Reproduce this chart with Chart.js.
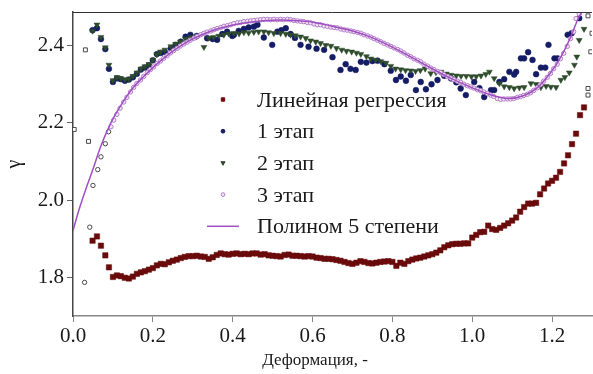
<!DOCTYPE html>
<html>
<head>
<meta charset="utf-8">
<script src="https://cdn.jsdelivr.net/npm/chart.js@4"></script>
<style>
  html, body { margin: 0; padding: 0; background: #fff; }
  #wrap { width: 593px; height: 374px; }
</style>
</head>
<body>
<div id="wrap"><canvas id="gammaChart" width="593" height="374"></canvas></div>
<script>
const FONT = "'Liberation Serif', 'DejaVu Serif', serif";
const X_TICKS = [0, 0.2, 0.4, 0.6, 0.8, 1.0, 1.2];
const Y_TICKS = [1.8, 2.0, 2.2, 2.4];
const X_TITLE = "Деформация, -";
const Y_TITLE = "γ";
const LABELS = ["Линейная регрессия", "1 этап", "2 этап", "3 этап", "Полином 5 степени"];

// [x, y]
const LINEAR = [
  [0.049,1.895],[0.060,1.906],[0.070,1.882],[0.081,1.857],[0.090,1.826],
  [0.100,1.801],[0.110,1.805],[0.120,1.803],[0.130,1.799],[0.140,1.797],[0.150,1.802],[0.160,1.809],[0.170,1.813],[0.180,1.816],[0.190,1.820],
  [0.200,1.824],[0.210,1.831],[0.220,1.835],[0.230,1.834],[0.240,1.839],[0.250,1.843],[0.260,1.846],[0.270,1.850],[0.280,1.853],[0.290,1.855],
  [0.300,1.855],[0.310,1.856],[0.320,1.854],[0.330,1.853],[0.340,1.848],[0.350,1.852],[0.360,1.858],[0.370,1.862],[0.380,1.860],[0.390,1.859],
  [0.400,1.861],[0.410,1.862],[0.420,1.860],[0.430,1.861],[0.440,1.860],[0.450,1.862],[0.460,1.862],[0.470,1.859],[0.480,1.860],[0.490,1.857],
  [0.500,1.856],[0.510,1.855],[0.520,1.854],[0.530,1.858],[0.540,1.859],[0.550,1.856],[0.560,1.856],[0.570,1.855],[0.580,1.854],[0.590,1.855],
  [0.600,1.854],[0.610,1.851],[0.620,1.850],[0.630,1.848],[0.640,1.848],[0.650,1.847],[0.660,1.845],[0.670,1.843],[0.680,1.840],[0.690,1.837],
  [0.700,1.835],[0.710,1.838],[0.720,1.842],[0.730,1.840],[0.740,1.837],[0.750,1.836],[0.760,1.838],[0.770,1.840],[0.780,1.841],[0.790,1.842],
  [0.800,1.840],[0.810,1.830],[0.820,1.838],[0.830,1.835],[0.840,1.842],[0.850,1.846],[0.860,1.849],[0.870,1.851],[0.880,1.854],[0.890,1.857],
  [0.900,1.860],[0.910,1.864],[0.920,1.870],[0.930,1.878],[0.940,1.883],[0.950,1.886],[0.960,1.887],[0.970,1.887],[0.980,1.888],[0.990,1.888],
  [1.000,1.903],[1.010,1.910],[1.020,1.917],[1.030,1.918],[1.040,1.934],[1.050,1.925],[1.060,1.923],[1.070,1.928],[1.080,1.934],[1.090,1.940],
  [1.100,1.947],[1.110,1.955],[1.120,1.970],[1.130,1.982],[1.140,1.991],[1.150,1.991],[1.160,1.993],[1.170,2.015],[1.180,2.030],[1.190,2.043],
  [1.200,2.050],[1.210,2.058],[1.220,2.073],[1.230,2.095],[1.240,2.116],[1.250,2.145],[1.260,2.172],[1.270,2.220],[1.280,2.240]
];

const STAGE1 = [
  [0.049,2.440],[0.060,2.445],[0.070,2.417],[0.081,2.391],[0.090,2.340],[0.100,2.306],[0.110,2.315],[0.120,2.313],[0.130,2.309],[0.140,2.312],
  [0.150,2.318],[0.160,2.327],[0.170,2.338],[0.180,2.343],[0.190,2.349],[0.200,2.362],[0.210,2.378],[0.220,2.381],[0.230,2.384],[0.245,2.393],
  [0.257,2.402],[0.270,2.410],[0.282,2.423],[0.294,2.428],[0.310,2.425],[0.336,2.419],[0.350,2.417],[0.361,2.415],[0.374,2.430],[0.386,2.436],
  [0.399,2.425],[0.403,2.428],[0.415,2.438],[0.428,2.443],[0.440,2.447],[0.453,2.449],[0.462,2.454],[0.478,2.421],[0.499,2.402],[0.512,2.436],
  [0.522,2.440],[0.533,2.445],[0.545,2.430],[0.556,2.420],[0.570,2.402],[0.590,2.397],[0.610,2.392],[0.629,2.389],[0.650,2.370],[0.670,2.337],
  [0.683,2.352],[0.695,2.340],[0.708,2.337],[0.721,2.358],[0.735,2.356],[0.750,2.360],[0.763,2.361],[0.780,2.352],[0.796,2.335],[0.809,2.311],
  [0.821,2.320],[0.834,2.309],[0.846,2.324],[0.859,2.285],[0.871,2.306],[0.884,2.287],[0.898,2.300],[0.913,2.311],[0.930,2.322],[0.947,2.315],
  [0.960,2.305],[0.971,2.289],[0.984,2.272],[1.005,2.306],[1.018,2.290],[1.030,2.267],[1.047,2.285],[1.055,2.285],[1.068,2.306],[1.080,2.313],
  [1.093,2.332],[1.105,2.325],[1.110,2.332],[1.122,2.367],[1.130,2.367],[1.140,2.383],[1.151,2.363],[1.160,2.326],[1.172,2.343],[1.183,2.343],
  [1.191,2.402],[1.206,2.367],[1.214,2.367],[1.239,2.428],[1.249,2.432],[1.268,2.471]
];

const STAGE2 = [
  [0.049,2.438],[0.060,2.454],[0.070,2.422],[0.081,2.395],[0.090,2.350],[0.100,2.310],[0.110,2.318],[0.120,2.315],[0.130,2.312],[0.140,2.314],
  [0.150,2.321],[0.160,2.330],[0.170,2.340],[0.180,2.346],[0.190,2.352],[0.200,2.363],[0.210,2.377],[0.219,2.384],[0.230,2.389],[0.245,2.398],
  [0.257,2.404],[0.269,2.410],[0.282,2.417],[0.294,2.421],[0.310,2.424],[0.328,2.396],[0.340,2.420],[0.352,2.422],[0.365,2.425],[0.378,2.428],
  [0.390,2.431],[0.403,2.432],[0.416,2.431],[0.428,2.434],[0.440,2.433],[0.453,2.435],[0.465,2.436],[0.478,2.436],[0.490,2.434],[0.503,2.432],
  [0.520,2.432],[0.533,2.430],[0.545,2.428],[0.557,2.426],[0.570,2.423],[0.583,2.419],[0.595,2.413],[0.608,2.410],[0.620,2.406],[0.633,2.401],
  [0.646,2.399],[0.660,2.393],[0.673,2.389],[0.685,2.386],[0.698,2.384],[0.710,2.381],[0.721,2.378],[0.735,2.372],[0.746,2.366],[0.758,2.363],
  [0.771,2.359],[0.784,2.355],[0.796,2.347],[0.808,2.340],[0.821,2.338],[0.833,2.336],[0.846,2.335],[0.858,2.334],[0.870,2.336],[0.882,2.340],
  [0.896,2.328],[0.909,2.331],[0.922,2.332],[0.935,2.327],[0.947,2.324],[0.960,2.322],[0.972,2.321],[0.985,2.321],[0.998,2.320],[1.010,2.320],
  [1.022,2.322],[1.034,2.326],[1.043,2.332],[1.055,2.315],[1.068,2.302],[1.080,2.294],[1.093,2.292],[1.105,2.289],[1.118,2.291],[1.130,2.292],
  [1.147,2.302],[1.160,2.300],[1.172,2.292],[1.185,2.295],[1.197,2.293],[1.210,2.292],[1.222,2.311],[1.232,2.318],[1.243,2.330],[1.256,2.350],
  [1.262,2.371],[1.268,2.414],[1.280,2.443]
];

const STAGE3 = [
  [0.095,2.190],[0.102,2.207],[0.110,2.222],[0.118,2.238],[0.127,2.254],[0.135,2.266],[0.144,2.280],[0.152,2.292],[0.160,2.302],[0.169,2.311],
  [0.177,2.320],[0.186,2.330],[0.194,2.338],[0.202,2.345],[0.211,2.354],[0.219,2.360],[0.227,2.367],[0.236,2.374],[0.244,2.381],[0.252,2.387],
  [0.261,2.393],[0.269,2.399],[0.277,2.404],[0.286,2.409],[0.294,2.414],[0.303,2.419],[0.311,2.424],[0.320,2.428],[0.328,2.432],[0.336,2.435],
  [0.345,2.438],[0.353,2.441],[0.361,2.444],[0.370,2.447],[0.378,2.450],[0.387,2.452],[0.395,2.454],[0.403,2.457],[0.412,2.459],[0.420,2.460],
  [0.428,2.462],[0.437,2.463],[0.445,2.464],[0.453,2.465],[0.462,2.466],[0.470,2.467],[0.478,2.468],[0.487,2.468],[0.495,2.467],[0.503,2.468],
  [0.512,2.467],[0.520,2.468],[0.528,2.467],[0.537,2.468],[0.545,2.467],[0.553,2.465],[0.562,2.464],[0.570,2.463],[0.578,2.462],[0.587,2.460],
  [0.595,2.459],[0.604,2.456],[0.612,2.454],[0.620,2.454],[0.629,2.451],[0.637,2.450],[0.646,2.448],[0.654,2.447],[0.662,2.446],[0.671,2.443],
  [0.679,2.441],[0.687,2.440],[0.696,2.438],[0.704,2.436],[0.713,2.434],[0.721,2.432],[0.729,2.428],[0.738,2.425],[0.746,2.422],[0.754,2.418],
  [0.763,2.414],[0.771,2.410],[0.779,2.406],[0.788,2.402],[0.796,2.398],[0.804,2.394],[0.813,2.390],[0.821,2.386],[0.829,2.381],[0.838,2.375],
  [0.846,2.371],[0.854,2.366],[0.863,2.362],[0.871,2.358],[0.879,2.352],[0.888,2.347],[0.896,2.342],[0.904,2.338],[0.913,2.333],[0.921,2.330],
  [0.929,2.325],[0.938,2.320],[0.946,2.316],[0.954,2.312],[0.963,2.308],[0.971,2.305],[0.979,2.300],[0.988,2.296],[0.996,2.293],[1.004,2.290],
  [1.013,2.286],[1.021,2.283],[1.029,2.280],[1.038,2.276],[1.046,2.272],[1.054,2.268],[1.063,2.263],[1.071,2.261],[1.079,2.262],[1.088,2.262],
  [1.096,2.262],[1.104,2.263],[1.113,2.266],[1.121,2.268],[1.129,2.271],[1.138,2.274],[1.146,2.278],[1.154,2.284],[1.163,2.291],[1.171,2.299],
  [1.179,2.308],[1.188,2.318],[1.196,2.328],[1.204,2.340],[1.213,2.352],[1.221,2.366],[1.229,2.380],[1.238,2.398],[1.246,2.418],[1.254,2.436],
  [1.260,2.470],[1.268,2.482]
];

// stray open markers without a legend entry
const EDGE_CIRCLES = [[0.029,1.787],[0.042,1.930],[0.050,2.038],[0.062,2.079],[0.070,2.112],[0.081,2.146],[0.089,2.177]];
const EDGE_SQUARES = [[0.003,2.183],[0.031,2.389],[0.039,2.152],[1.290,2.477],[1.300,2.432],[1.297,2.384],[1.290,2.289],[1.290,2.272]];

const POLY = [
  [0.000,1.921],[0.015,1.975],[0.031,2.025],[0.050,2.080],[0.068,2.135],[0.085,2.178],[0.102,2.214],[0.127,2.257],[0.152,2.293],[0.177,2.320],
  [0.202,2.345],[0.227,2.367],[0.252,2.387],[0.277,2.404],[0.303,2.419],[0.332,2.432],[0.361,2.443],[0.390,2.451],[0.420,2.457],[0.453,2.462],
  [0.487,2.465],[0.520,2.466],[0.553,2.465],[0.595,2.462],[0.646,2.451],[0.696,2.439],[0.746,2.422],[0.796,2.398],[0.846,2.371],[0.896,2.342],
  [0.947,2.315],[0.997,2.292],[1.047,2.272],[1.089,2.263],[1.130,2.271],[1.164,2.292],[1.197,2.331],[1.222,2.371],[1.247,2.423],[1.264,2.467],
  [1.281,2.500]
];

function toPoints(rows) {
  return rows.map(function(r) { return { x: r[0], y: r[1] }; });
}

const LEGEND_SIZE = { rect: 2.4, circle: 1.9, triangle: 2.4 };

const innerLegend = {
  id: "innerLegend",
  afterDraw(chart) {
    const ctx = chart.ctx;
    ctx.save();
    ctx.font = "22px " + FONT;
    ctx.textBaseline = "alphabetic";
    let row = 0;
    chart.data.datasets.forEach(function(ds) {
      if (!ds.label) return;
      const base = 106.5 + row * 31.7;
      const my = base - 7;
      if (ds.showLine) {
        ctx.strokeStyle = ds.borderColor;
        ctx.lineWidth = ds.borderWidth;
        ctx.beginPath();
        ctx.moveTo(207, my);
        ctx.lineTo(239, my);
        ctx.stroke();
      } else {
        ctx.fillStyle = ds.backgroundColor;
        ctx.strokeStyle = ds.borderColor;
        Chart.helpers.drawPoint(ctx, {
          pointStyle: ds.pointStyle,
          radius: LEGEND_SIZE[ds.pointStyle],
          rotation: ds.rotation || 0,
          borderWidth: ds.borderWidth
        }, 223, my);
      }
      ctx.fillStyle = "#1a1a1a";
      ctx.textAlign = "left";
      ctx.fillText(ds.label, 257, base);
      row++;
    });
    // x axis title and top frame line
    ctx.font = "17px " + FONT;
    ctx.textAlign = "center";
    ctx.fillText(X_TITLE, 315, 365);
    const a = chart.chartArea;
    ctx.strokeStyle = "#333";
    ctx.lineWidth = 1;
    ctx.beginPath();
    ctx.moveTo(a.left, a.top + 0.5);
    ctx.lineTo(a.right, a.top + 0.5);
    ctx.stroke();
    ctx.restore();
  }
};

const ctx = document.getElementById("gammaChart").getContext("2d");
new Chart(ctx, {
  type: "scatter",
  data: {
    datasets: [
      {
        label: LABELS[0],
        data: toPoints(LINEAR),
        pointStyle: "rect",
        pointRadius: 3.8,
        backgroundColor: "#6a0b0b",
        borderColor: "#6a0b0b",
        borderWidth: 0.5,
        order: 5
      },
      {
        label: LABELS[1],
        data: toPoints(STAGE1),
        pointStyle: "circle",
        pointRadius: 2.9,
        backgroundColor: "#141c66",
        borderColor: "#141c66",
        borderWidth: 0.5,
        order: 4
      },
      {
        label: LABELS[2],
        data: toPoints(STAGE2),
        pointStyle: "triangle",
        rotation: 180,
        pointRotation: 180,
        pointRadius: 3.4,
        backgroundColor: "#2e4b2c",
        borderColor: "#2e4b2c",
        borderWidth: 0.5,
        order: 3
      },
      {
        label: LABELS[3],
        data: toPoints(STAGE3),
        pointStyle: "circle",
        pointRadius: 2.2,
        backgroundColor: "#f1e6f5",
        borderColor: "#b27fc8",
        borderWidth: 1,
        order: 2
      },
      {
        label: "",
        data: toPoints(EDGE_CIRCLES),
        pointStyle: "circle",
        pointRadius: 2.2,
        backgroundColor: "#ffffff",
        borderColor: "#4a4a4a",
        borderWidth: 1,
        order: 2
      },
      {
        label: "",
        data: toPoints(EDGE_SQUARES),
        pointStyle: "rect",
        pointRadius: 2.8,
        backgroundColor: "#ffffff",
        borderColor: "#4a4a4a",
        borderWidth: 1,
        order: 2
      },
      {
        label: LABELS[4],
        type: "line",
        data: toPoints(POLY),
        showLine: true,
        pointRadius: 0,
        borderColor: "#a04fc0",
        borderWidth: 1.5,
        tension: 0.3,
        fill: false,
        order: 1
      }
    ]
  },
  options: {
    responsive: false,
    animation: false,
    devicePixelRatio: 1,
    layout: { autoPadding: false, padding: { top: 12, right: 1, left: 0, bottom: 0 } },
    plugins: {
      legend: { display: false },
      tooltip: { enabled: false }
    },
    scales: {
      x: {
        type: "linear",
        min: 0,
        max: 1.3,
        bounds: "data",
        afterBuildTicks: function(scale) {
          scale.ticks = X_TICKS.map(function(v) { return { value: v }; });
        },
        afterFit: function(scale) {
          scale.height = 58;
          scale.paddingLeft = 0;
          scale.paddingRight = 0;
        },
        ticks: {
          padding: 2,
          color: "#1a1a1a",
          font: { family: FONT, size: 21 },
          callback: function(v) { return Number(v).toFixed(1); }
        },
        grid: { drawOnChartArea: false, drawTicks: true, tickLength: 6, color: "#888" },
        border: { display: true, color: "#888", width: 1.5 }
      },
      y: {
        type: "linear",
        min: 1.7,
        max: 2.487,
        bounds: "data",
        afterBuildTicks: function(scale) {
          scale.ticks = Y_TICKS.map(function(v) { return { value: v }; });
        },
        afterFit: function(scale) {
          scale.width = 73;
          scale.paddingTop = 0;
          scale.paddingBottom = 0;
        },
        ticks: {
          padding: 3,
          color: "#1a1a1a",
          font: { family: FONT, size: 21 },
          callback: function(v) { return Number(v).toFixed(1); }
        },
        title: {
          display: true,
          text: Y_TITLE,
          color: "#1a1a1a",
          font: { family: FONT, size: 20 },
          padding: { top: 3, bottom: 0 }
        },
        grid: { drawOnChartArea: false, drawTicks: true, tickLength: 6, color: "#666" },
        border: { display: true, color: "#444", width: 1.5 }
      }
    }
  },
  plugins: [innerLegend]
});
</script>
</body>
</html>
